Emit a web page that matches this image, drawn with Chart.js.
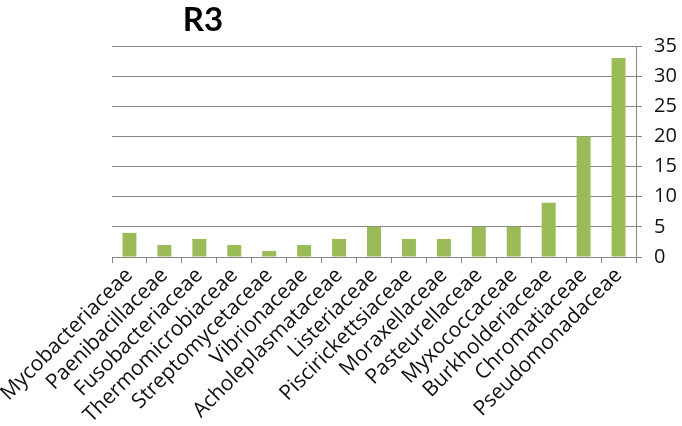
<!DOCTYPE html>
<html><head><meta charset="utf-8">
<script src="https://cdn.jsdelivr.net/npm/chart.js@4/dist/chart.umd.min.js"></script>
<style>html,body{margin:0;padding:0;background:#fff;}#wrap{width:682px;height:426px;}</style>
</head><body><div id="wrap"><canvas id="c" width="682" height="426"></canvas></div>
<script>
const categories = ["Mycobacteriaceae","Paenibacillaceae","Fusobacteriaceae","Thermomicrobiaceae","Streptomycetaceae","Vibrionaceae","Acholeplasmataceae","Listeriaceae","Piscirickettsiaceae","Moraxellaceae","Pasteurellaceae","Myxococcaceae","Burkholderiaceae","Chromatiaceae","Pseudomonadaceae"];
const values = [4,2,3,2,1,2,3,5,3,3,5,5,9,20,33];
const yTicks = [0,5,10,15,20,25,30,35];
const titleText = "R3";
const FONT = "'Open Sans', sans-serif";

const titlePlugin = {
  id: 'leftTitle',
  afterDraw(chart) {
    const ctx = chart.ctx;
    ctx.save();
    ctx.font = "bold 33px Lato, sans-serif";
    ctx.fillStyle = "#000";
    ctx.textAlign = "center";
    ctx.textBaseline = "alphabetic";
    ctx.fillText(titleText, 203, 31);
    ctx.restore();
  }
};

new Chart(document.getElementById('c'), {
  type: 'bar',
  data: { labels: categories, datasets: [{ data: values, backgroundColor: '#9BBB59', barPercentage: 0.4, categoryPercentage: 1.0 }] },
  options: {
    responsive: false, animation: false,
    layout: { padding: { top: 46, left: 112, right: 0, bottom: 0 } },
    plugins: { legend: { display: false }, title: { display: false }, tooltip: { enabled: false } },
    scales: {
      x: {
        afterFit(scale) { scale.height = 169; scale.paddingLeft = 0; },
        grid: { display: true, drawOnChartArea: false, offset: true, tickLength: 6, color: '#878787' },
        border: { color: '#878787' },
        ticks: { autoSkip: false, maxRotation: 45, minRotation: 45, color: '#111', font: { family: FONT, size: 21 }, padding: 0 }
      },
      y: {
        position: 'right', min: 0, max: 35,
        afterFit(scale) { scale.width = 46; },
        afterBuildTicks(axis) { axis.ticks = yTicks.map(v => ({ value: v })); },
        grid: { color: '#878787', tickLength: 6 },
        border: { color: '#878787' },
        ticks: { color: '#111', font: { family: FONT, size: 20 }, padding: 12 }
      }
    }
  },
  plugins: [titlePlugin]
});
</script></body></html>
